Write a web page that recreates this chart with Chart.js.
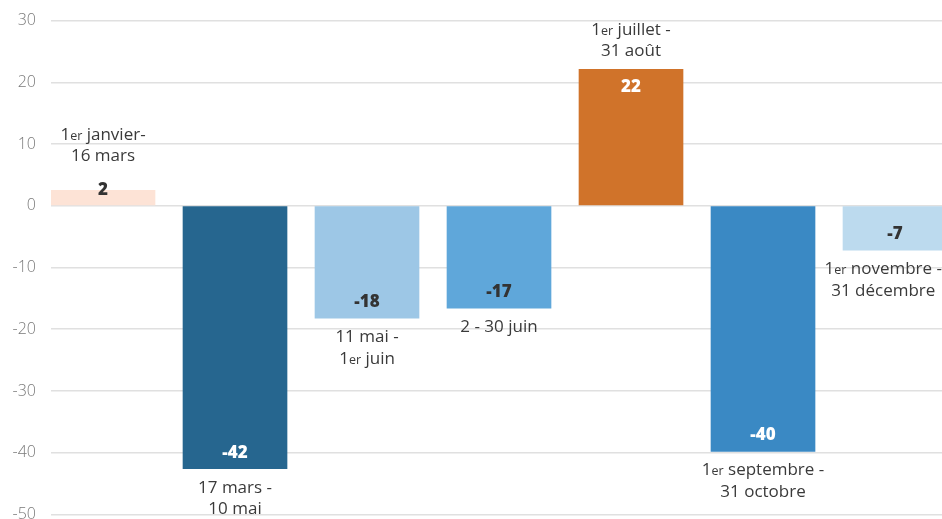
<!DOCTYPE html>
<html>
<head>
<meta charset="utf-8">
<script src="https://cdn.jsdelivr.net/npm/chart.js@4"></script>
<style>
  html, body { margin: 0; padding: 0; background: #fff; overflow: hidden; }
  #wrap { width: 942px; height: 519px; position: relative; overflow: hidden; }
  #inner { position: absolute; left: 0; top: -4px; width: 942px; height: 543px; }
</style>
</head>
<body>
<div id="wrap"><div id="inner"><canvas id="myChart"></canvas></div></div>
<script>
// periodes (deux lignes max)
var periods = [
    ['1er janvier-', '16 mars'],
    ['17 mars -', '10 mai'],
    ['11 mai -', '1er juin'],
    ['2 - 30 juin'],
    ['1er juillet -', '31 août'],
    ['1er septembre -', '31 octobre'],
    ['1er novembre -', '31 décembre']
];
var values = [2.5, -42.6, -18.2, -16.6, 22.1, -39.8, -7.2];
var valueLabels = ['2', '-42', '-18', '-17', '22', '-40', '-7'];
var barColors = ['#fde3d6', '#26668f', '#9dc7e6', '#5fa7da', '#d0732a', '#3a89c4', '#bcdaee'];
var darkBars = [false, true, false, false, true, true, false];
var yMin = -50, yMax = 30, yStep = 10;

var FONT = '"Open Sans", Lato, sans-serif';
var BIG = '400 17px ' + FONT;
var SMALL = '400 12.5px ' + FONT;

// texte avec "er" en petit apres le 1
function richWidth(c, txt) {
    var m = txt.match(/^1er(.*)$/);
    c.font = BIG;
    if (!m) return c.measureText(txt).width;
    var w = c.measureText('1').width + c.measureText(m[1]).width;
    c.font = SMALL;
    return w + c.measureText('er').width;
}
function drawRich(c, txt, cx, y) {
    var w = richWidth(c, txt);
    var x = cx - w / 2;
    c.textAlign = 'left';
    c.textBaseline = 'alphabetic';
    var m = txt.match(/^1er(.*)$/);
    c.font = BIG;
    if (!m) { c.fillText(txt, x, y); return; }
    c.fillText('1', x, y); x += c.measureText('1').width;
    c.font = SMALL;
    c.fillText('er', x, y); x += c.measureText('er').width;
    c.font = BIG;
    c.fillText(m[1], x, y);
}

var labelsPlugin = {
    id: 'barLabels',
    afterDatasetsDraw: function(chart) {
        var c = chart.ctx;
        var meta = chart.getDatasetMeta(0);
        c.save();
        meta.data.forEach(function(bar, i) {
            var v = values[i];
            var h = Math.abs(bar.base - bar.y);
            var valY;
            if (v >= 0) valY = h > 36 ? bar.y + 18 : bar.y;
            else valY = bar.y - 16;
            c.font = '800 17px ' + FONT;
            c.textAlign = 'center';
            c.textBaseline = 'middle';
            c.fillStyle = darkBars[i] ? '#ffffff' : '#333333';
            c.fillText(valueLabels[i], bar.x, valY);

            var lines = periods[i];
            var lh = 21.5;
            var maxW = 0;
            lines.forEach(function(t) { maxW = Math.max(maxW, richWidth(c, t)); });
            var cx = bar.x;
            if (cx + maxW / 2 > chart.width) cx = chart.width - maxW / 2;
            var firstY;
            if (v >= 0) {
                var lastY = (h > 36 ? bar.y : valY - 16) - 19;
                firstY = lastY - (lines.length - 1) * lh;
            } else {
                firstY = bar.y + 18;
            }
            c.fillStyle = '#3a3a3a';
            lines.forEach(function(t, k) {
                drawRich(c, t, cx, firstY + k * lh + 6);
            });
        });
        c.restore();
    }
};

var ctx = document.getElementById('myChart').getContext('2d');
var myChart = new Chart(ctx, {
    type: 'bar',
    data: {
        datasets: [{
            data: values.map(function(v, i) { return { x: i, y: v }; }),
            backgroundColor: barColors,
            borderWidth: 0,
            barThickness: 104
        }]
    },
    options: {
        responsive: true,
        maintainAspectRatio: false,
        animation: false,
        plugins: {
            legend: { display: false },
            tooltip: { enabled: false }
        },
        scales: {
            x: {
                type: 'linear',
                display: false,
                offset: false,
                min: -0.394,
                max: 6.356
            },
            y: {
                min: yMin,
                max: yMax,
                border: { display: false },
                grid: { color: '#e0e0e0', lineWidth: 1.5, drawTicks: false },
                ticks: {
                    stepSize: yStep,
                    padding: 15,
                    color: '#7a7a7a',
                    font: { family: FONT, size: 16, weight: '300' }
                },
                afterFit: function(scale) { scale.width = 51; }
            }
        }
    },
    plugins: [labelsPlugin]
});
</script>
</body>
</html>
